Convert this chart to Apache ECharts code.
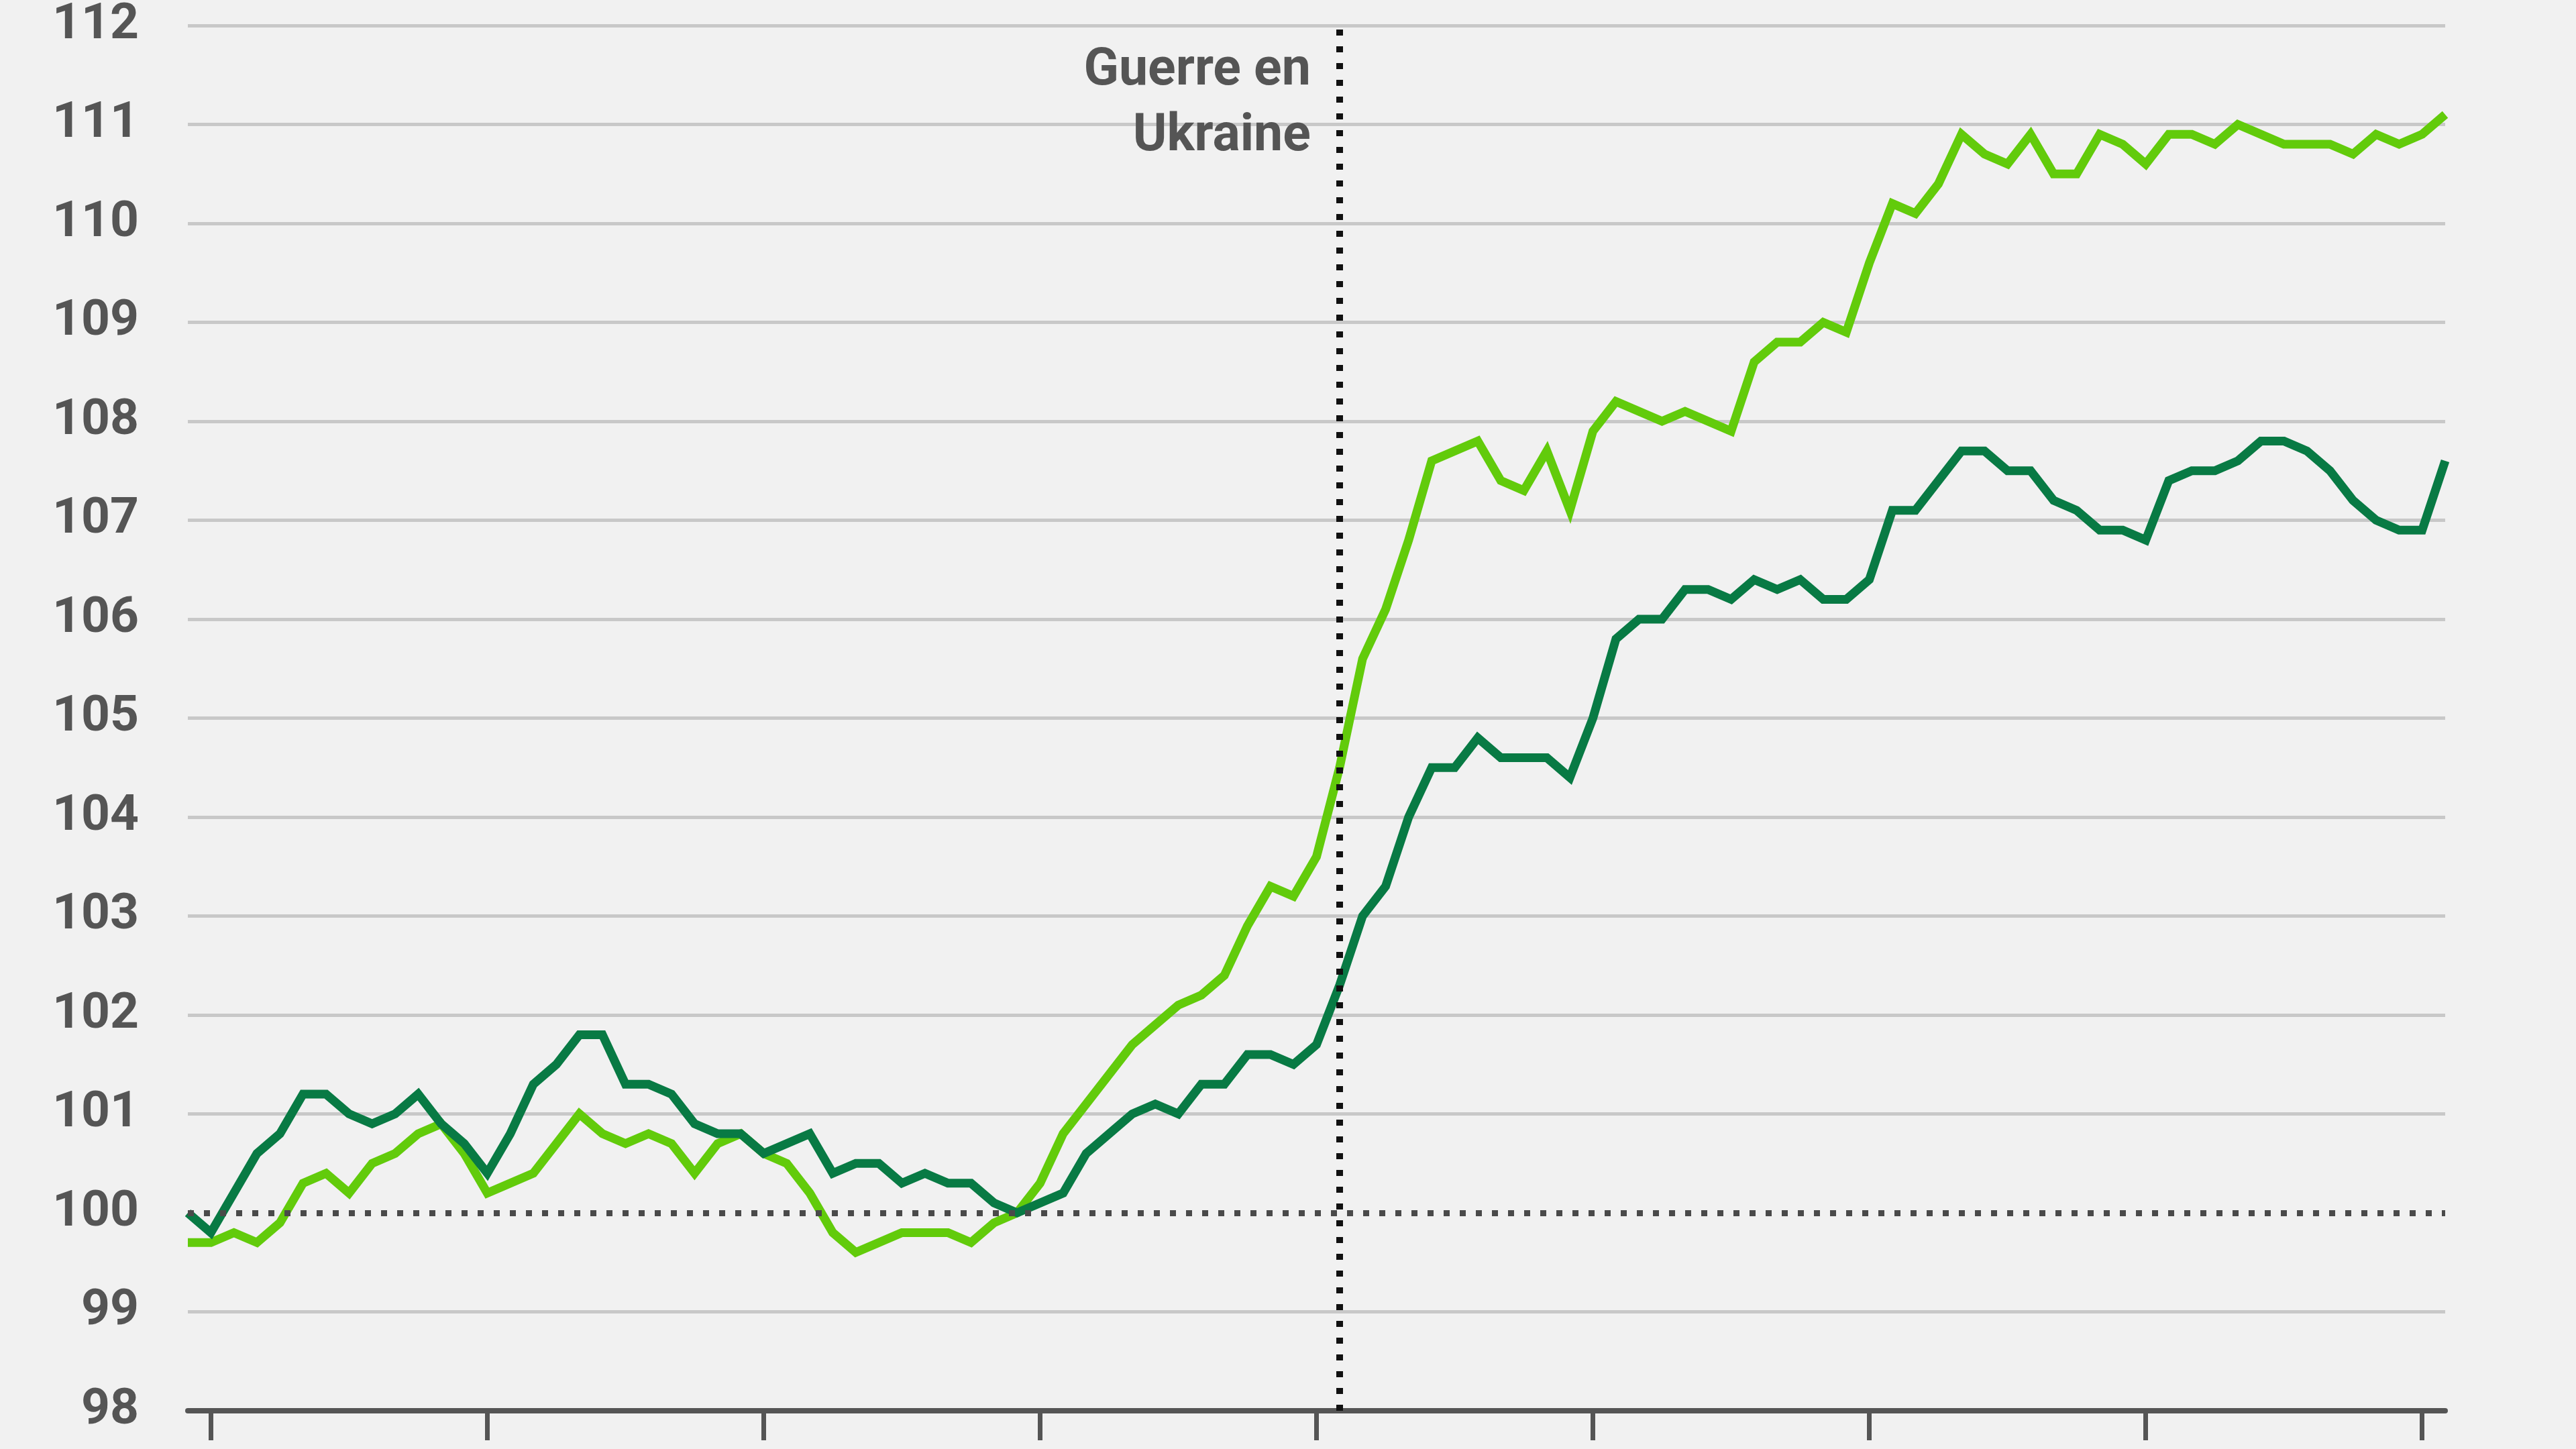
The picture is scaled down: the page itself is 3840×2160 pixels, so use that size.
<!DOCTYPE html>
<html>
<head>
<meta charset="utf-8">
<script src="https://cdn.jsdelivr.net/npm/echarts@6/dist/echarts.min.js"></script>
<style>
  html, body { margin: 0; padding: 0; background: #f1f1f1; }
  #chart { width: 3840px; height: 2160px; }
</style>
</head>
<body>
<div id="chart"></div>
<script>
// Monthly categories: Dec 2017 .. Feb 2026
const startYear = 2017, startMonth = 12, monthCount = 99;
const categories = [];
for (let k = 0; k < monthCount; k++) {
  const t = (startMonth - 1) + k;
  const y = startYear + Math.floor(t / 12);
  const m = (t % 12) + 1;
  categories.push(y + '-' + (m < 10 ? '0' + m : '' + m));
}

// Dark green series
const darkValues = [
  100.0, 99.8, 100.2, 100.6, 100.8, 101.2, 101.2, 101.0, 100.9, 101.0,
  101.2, 100.9, 100.7, 100.4, 100.8, 101.3, 101.5, 101.8, 101.8, 101.3,
  101.3, 101.2, 100.9, 100.8, 100.8, 100.6, 100.7, 100.8, 100.4, 100.5,
  100.5, 100.3, 100.4, 100.3, 100.3, 100.1, 100.0, 100.1, 100.2, 100.6,
  100.8, 101.0, 101.1, 101.0, 101.3, 101.3, 101.6, 101.6, 101.5, 101.7,
  102.3, 103.0, 103.3, 104.0, 104.5, 104.5, 104.8, 104.6, 104.6, 104.6,
  104.4, 105.0, 105.8, 106.0, 106.0, 106.3, 106.3, 106.2, 106.4, 106.3,
  106.4, 106.2, 106.2, 106.4, 107.1, 107.1, 107.4, 107.7, 107.7, 107.5,
  107.5, 107.2, 107.1, 106.9, 106.9, 106.8, 107.4, 107.5, 107.5, 107.6,
  107.8, 107.8, 107.7, 107.5, 107.2, 107.0, 106.9, 106.9, 107.6
];

// Light green series
const lightValues = [
  99.7, 99.7, 99.8, 99.7, 99.9, 100.3, 100.4, 100.2, 100.5, 100.6,
  100.8, 100.9, 100.6, 100.2, 100.3, 100.4, 100.7, 101.0, 100.8, 100.7,
  100.8, 100.7, 100.4, 100.7, 100.8, 100.6, 100.5, 100.2, 99.8, 99.6,
  99.7, 99.8, 99.8, 99.8, 99.7, 99.9, 100.0, 100.3, 100.8, 101.1,
  101.4, 101.7, 101.9, 102.1, 102.2, 102.4, 102.9, 103.3, 103.2, 103.6,
  104.5, 105.6, 106.1, 106.8, 107.6, 107.7, 107.8, 107.4, 107.3, 107.7,
  107.1, 107.9, 108.2, 108.1, 108.0, 108.1, 108.0, 107.9, 108.6, 108.8,
  108.8, 109.0, 108.9, 109.6, 110.2, 110.1, 110.4, 110.9, 110.7, 110.6,
  110.9, 110.5, 110.5, 110.9, 110.8, 110.6, 110.9, 110.9, 110.8, 111.0,
  110.9, 110.8, 110.8, 110.8, 110.7, 110.9, 110.8, 110.9, 111.1
];

// Axis / annotation values
const yMin = 98, yMax = 112, yStep = 1;
const baseValue = 100;
const warMonth = '2022-02';
const warLabel = 'Guerre en\nUkraine';
const warLabelValue = 111.2;

const gridColor = '#c8c8c8';
const splitColors = [];
for (let v = yMin; v <= yMax; v += yStep) {
  splitColors.push(v === baseValue ? 'rgba(0,0,0,0)' : gridColor);
}

const chart = echarts.init(document.getElementById('chart'), null, { renderer: 'canvas' });
chart.setOption({
  backgroundColor: '#f1f1f1',
  animation: false,
  textStyle: { fontFamily: 'Roboto' },
  grid: { left: 280, right: 195, top: 38, bottom: 57, containLabel: false },
  xAxis: {
    type: 'category',
    data: categories,
    boundaryGap: false,
    axisLine: { show: true, lineStyle: { color: '#555555', width: 8 } },
    axisTick: {
      show: true,
      length: 44,
      interval: function (index, value) { return value.slice(5) === '01'; },
      lineStyle: { color: '#555555', width: 7 }
    },
    axisLabel: { show: false },
    splitLine: { show: false }
  },
  yAxis: {
    type: 'value',
    min: yMin,
    max: yMax,
    interval: yStep,
    axisLine: { show: false },
    axisTick: { show: false },
    axisLabel: {
      color: '#555555',
      fontSize: 75,
      fontWeight: 'bold',
      fontFamily: 'Roboto',
      margin: 73
    },
    splitLine: { show: true, lineStyle: { color: splitColors, width: 5 } }
  },
  series: [
    {
      name: 'Série claire',
      type: 'line',
      data: lightValues,
      showSymbol: false,
      symbol: 'none',
      z: 2,
      lineStyle: { color: '#62cb0b', width: 13, join: 'miter' },
      itemStyle: { color: '#62cb0b' }
    },
    {
      name: 'Série foncée',
      type: 'line',
      data: darkValues,
      showSymbol: false,
      symbol: 'none',
      z: 3,
      lineStyle: { color: '#087a44', width: 13, join: 'miter' },
      itemStyle: { color: '#087a44' }
    },
    {
      name: 'annotations',
      type: 'line',
      data: darkValues,
      showSymbol: false,
      symbol: 'none',
      silent: true,
      z: 5,
      lineStyle: { opacity: 0, width: 0 },
      markLine: {
        silent: true,
        symbol: ['none', 'none'],
        label: { show: false },
        data: [
          { yAxis: baseValue, lineStyle: { color: '#4a4a4a', width: 9, type: [9, 15] } },
          { xAxis: warMonth, lineStyle: { color: '#111111', width: 10, type: [9, 16] } }
        ]
      },
      markPoint: {
        silent: true,
        symbol: 'circle',
        symbolSize: 0,
        data: [{ coord: [warMonth, warLabelValue] }],
        label: {
          show: true,
          formatter: warLabel,
          position: 'left',
          distance: 43,
          align: 'right',
          color: '#555555',
          fontSize: 77,
          fontWeight: 'bold',
          fontFamily: 'Roboto',
          lineHeight: 98
        }
      }
    }
  ]
});
</script>
</body>
</html>
